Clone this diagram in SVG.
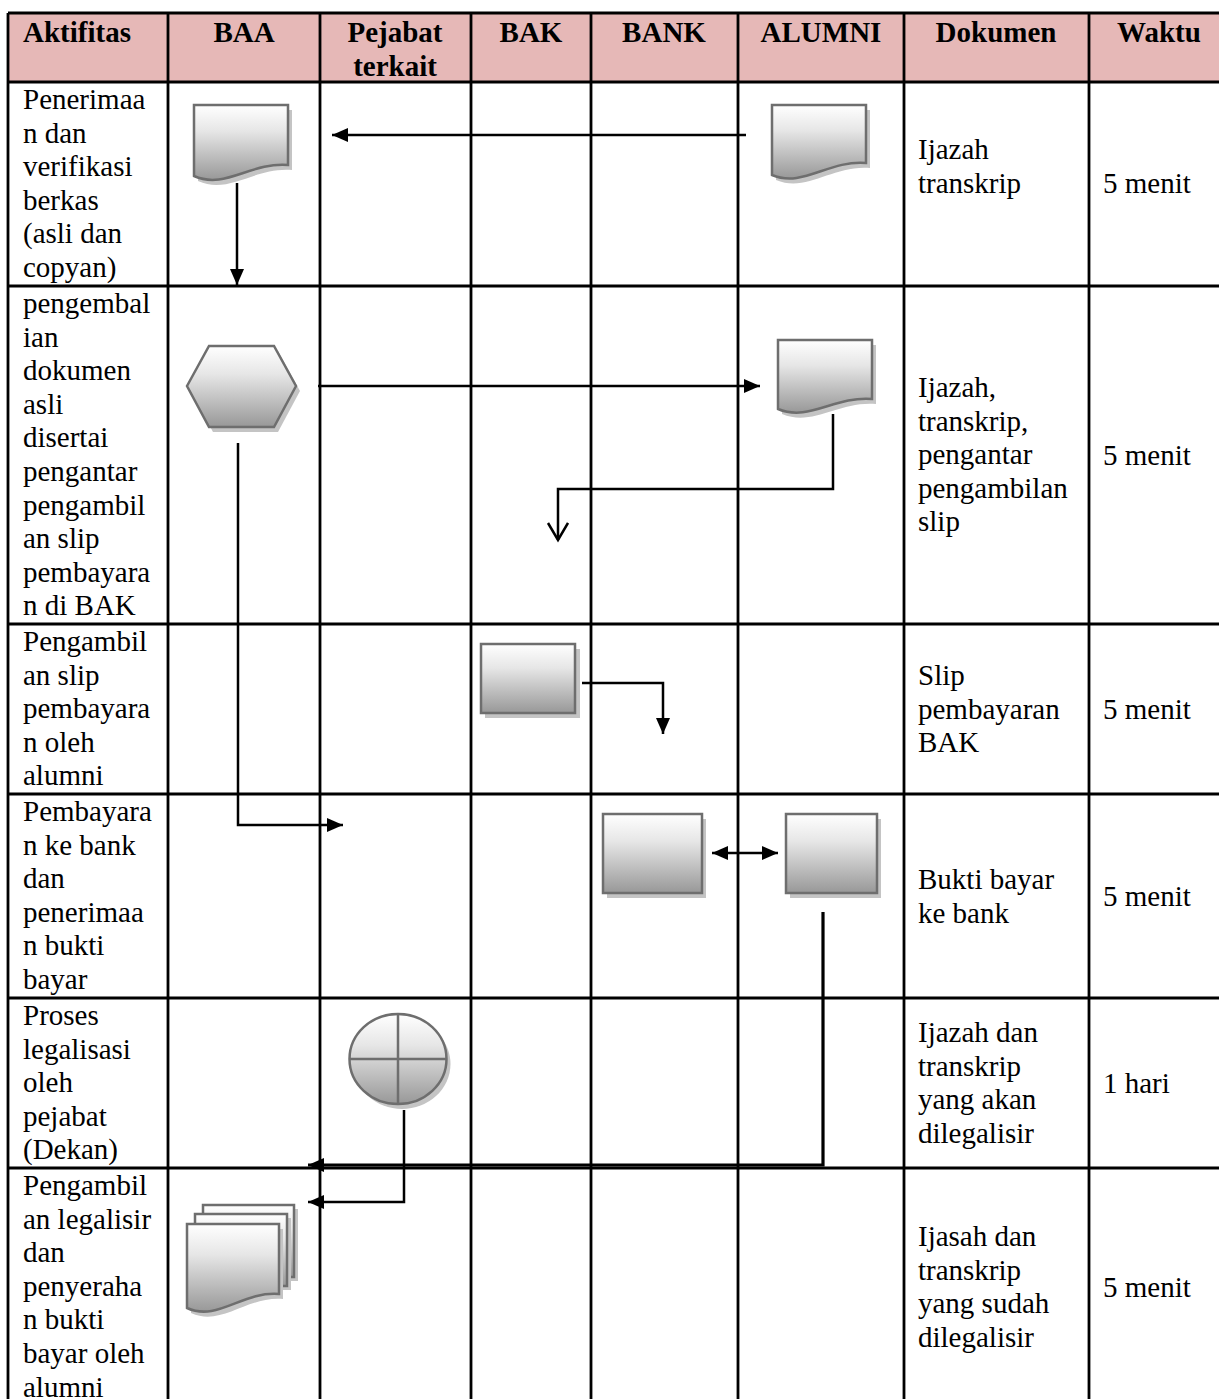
<svg xmlns="http://www.w3.org/2000/svg" width="1219" height="1399" viewBox="0 0 1219 1399">
<style>
text{font-family:"Liberation Serif","Times New Roman",serif;font-size:29px;fill:#000}
.h{font-weight:bold;text-anchor:middle}
.grid{stroke:#000;stroke-width:2.8;fill:none}
.shp{fill:url(#g);stroke:#6e6e6e;stroke-width:2.5}
.sh{fill:#c4c4c4;stroke:none}
.c{fill:none;stroke:#000;stroke-width:2.5}
</style>
<defs>
<linearGradient id="g" x1="0" y1="0" x2="0" y2="1">
<stop offset="0" stop-color="#ffffff"/>
<stop offset="0.35" stop-color="#e6e6e6"/>
<stop offset="1" stop-color="#989898"/>
</linearGradient>
<marker id="a" markerUnits="userSpaceOnUse" markerWidth="18" markerHeight="16" refX="16" refY="7" orient="auto-start-reverse" viewBox="0 0 18 16">
<path d="M0,0 L16,7 L0,14 Z" fill="#000"/>
</marker>
<marker id="v" markerUnits="userSpaceOnUse" markerWidth="24" markerHeight="26" refX="18" refY="11" orient="auto" viewBox="0 0 24 26">
<path d="M1,1 L18,11 L1,21" fill="none" stroke="#000" stroke-width="2.5"/>
</marker>
</defs>
<rect width="1219" height="1399" fill="#fff"/>
<g id="table">
<rect x="8" y="13" width="1215" height="69" fill="#e6b8b7"/>
<path class="grid" d="M8,13H1221M8,82H1221M8,286H1221M8,624H1221M8,794H1221M8,998H1221M8,1168H1221M8,13V1399M168,13V1399M320,13V1399M471,13V1399M591,13V1399M738,13V1399M904,13V1399M1089,13V1399"/>
<text x="23" y="42" style="font-weight:bold">Aktifitas</text>
<text class="h" x="244" y="42">BAA</text>
<text class="h" x="395" y="42">Pejabat</text>
<text class="h" x="395" y="76">terkait</text>
<text class="h" x="531" y="42">BAK</text>
<text class="h" x="664" y="42">BANK</text>
<text class="h" x="821" y="42">ALUMNI</text>
<text class="h" x="996" y="42">Dokumen</text>
<text class="h" x="1159" y="42">Waktu</text>
<text x="23" y="109"><tspan x="23">Penerimaa</tspan><tspan x="23" dy="33.6">n dan</tspan><tspan x="23" dy="33.6">verifikasi</tspan><tspan x="23" dy="33.6">berkas</tspan><tspan x="23" dy="33.6">(asli dan</tspan><tspan x="23" dy="33.6">copyan)</tspan></text>
<text x="23" y="313"><tspan x="23">pengembal</tspan><tspan x="23" dy="33.6">ian</tspan><tspan x="23" dy="33.6">dokumen</tspan><tspan x="23" dy="33.6">asli</tspan><tspan x="23" dy="33.6">disertai</tspan><tspan x="23" dy="33.6">pengantar</tspan><tspan x="23" dy="33.6">pengambil</tspan><tspan x="23" dy="33.6">an slip</tspan><tspan x="23" dy="33.6">pembayara</tspan><tspan x="23" dy="33.6">n di BAK</tspan></text>
<text x="23" y="651"><tspan x="23">Pengambil</tspan><tspan x="23" dy="33.6">an slip</tspan><tspan x="23" dy="33.6">pembayara</tspan><tspan x="23" dy="33.6">n oleh</tspan><tspan x="23" dy="33.6">alumni</tspan></text>
<text x="23" y="821"><tspan x="23">Pembayara</tspan><tspan x="23" dy="33.6">n ke bank</tspan><tspan x="23" dy="33.6">dan</tspan><tspan x="23" dy="33.6">penerimaa</tspan><tspan x="23" dy="33.6">n bukti</tspan><tspan x="23" dy="33.6">bayar</tspan></text>
<text x="23" y="1025"><tspan x="23">Proses</tspan><tspan x="23" dy="33.6">legalisasi</tspan><tspan x="23" dy="33.6">oleh</tspan><tspan x="23" dy="33.6">pejabat</tspan><tspan x="23" dy="33.6">(Dekan)</tspan></text>
<text x="23" y="1195"><tspan x="23">Pengambil</tspan><tspan x="23" dy="33.6">an legalisir</tspan><tspan x="23" dy="33.6">dan</tspan><tspan x="23" dy="33.6">penyeraha</tspan><tspan x="23" dy="33.6">n bukti</tspan><tspan x="23" dy="33.6">bayar oleh</tspan><tspan x="23" dy="33.6">alumni</tspan></text>
<text x="918" y="159"><tspan x="918">Ijazah</tspan><tspan x="918" dy="33.6">transkrip</tspan></text>
<text x="918" y="397"><tspan x="918">Ijazah,</tspan><tspan x="918" dy="33.6">transkrip,</tspan><tspan x="918" dy="33.6">pengantar</tspan><tspan x="918" dy="33.6">pengambilan</tspan><tspan x="918" dy="33.6">slip</tspan></text>
<text x="918" y="685"><tspan x="918">Slip</tspan><tspan x="918" dy="33.6">pembayaran</tspan><tspan x="918" dy="33.6">BAK</tspan></text>
<text x="918" y="889"><tspan x="918">Bukti bayar</tspan><tspan x="918" dy="33.6">ke bank</tspan></text>
<text x="918" y="1042"><tspan x="918">Ijazah dan</tspan><tspan x="918" dy="33.6">transkrip</tspan><tspan x="918" dy="33.6">yang akan</tspan><tspan x="918" dy="33.6">dilegalisir</tspan></text>
<text x="918" y="1246"><tspan x="918">Ijasah dan</tspan><tspan x="918" dy="33.6">transkrip</tspan><tspan x="918" dy="33.6">yang sudah</tspan><tspan x="918" dy="33.6">dilegalisir</tspan></text>
<text x="1103" y="193">5 menit</text>
<text x="1103" y="465">5 menit</text>
<text x="1103" y="719">5 menit</text>
<text x="1103" y="906">5 menit</text>
<text x="1103" y="1093">1 hari</text>
<text x="1103" y="1297">5 menit</text>
</g>
<g id="baa-doc1">
<path class="sh" transform="translate(4,5)" d="M194,105H288V165C250,162 225,190 194,176Z"/>
<path class="shp" d="M194,105H288V165C250,162 225,190 194,176Z"/>
</g>
<g id="alumni-doc1">
<path class="sh" transform="translate(4,5)" d="M772,105H866V163C828,160 803,188 772,175Z"/>
<path class="shp" d="M772,105H866V163C828,160 803,188 772,175Z"/>
</g>
<g id="baa-hex">
<path class="sh" transform="translate(4,5)" d="M187,386L209,346H274L296,386L274,427H209Z"/>
<path class="shp" d="M187,386L209,346H274L296,386L274,427H209Z"/>
</g>
<g id="alumni-doc2">
<path class="sh" transform="translate(4,5)" d="M778,340H872V399C834,396 809,422 778,409Z"/>
<path class="shp" d="M778,340H872V399C834,396 809,422 778,409Z"/>
</g>
<g id="bak-proc">
<rect class="sh" x="485" y="649" width="95" height="69"/>
<rect class="shp" x="481" y="644" width="94" height="69"/>
</g>
<g id="bank-proc">
<rect class="sh" x="607" y="819" width="99" height="79"/>
<rect class="shp" x="603" y="814" width="99" height="79"/>
</g>
<g id="alumni-proc">
<rect class="sh" x="790" y="819" width="91" height="79"/>
<rect class="shp" x="786" y="814" width="91" height="79"/>
</g>
<g id="pejabat-sort">
<ellipse class="sh" cx="402" cy="1064" rx="48.5" ry="45"/>
<ellipse class="shp" cx="398" cy="1059" rx="48.5" ry="45"/>
<path d="M349.5,1059H446.5M398,1014V1104" stroke="#6e6e6e" stroke-width="2.5"/>
</g>
<g id="baa-multidoc">
<rect class="sh" x="207" y="1209" width="91" height="72"/>
<rect class="shp" x="203" y="1205" width="91" height="72"/>
<rect class="sh" x="199" y="1218" width="92" height="72"/>
<rect class="shp" x="195" y="1214" width="92" height="72"/>
<path class="sh" transform="translate(4,5)" d="M187,1224H279V1294C242,1291 218,1322 187,1308Z"/>
<path class="shp" d="M187,1224H279V1294C242,1291 218,1322 187,1308Z"/>
</g>
<g id="connectors">
<path class="c" d="M746,135H332" marker-end="url(#a)"/>
<path class="c" d="M237,183V285" marker-end="url(#a)"/>
<path class="c" d="M318,386H760" marker-end="url(#a)"/>
<path class="c" d="M833,414V489H558V540" marker-end="url(#v)"/>
<path class="c" d="M582,683H663V734" marker-end="url(#a)"/>
<path class="c" d="M238,443V825H343" marker-end="url(#a)"/>
<path class="c" d="M712,853H778" marker-start="url(#a)" marker-end="url(#a)"/>
<path class="c" style="stroke-width:3.2" d="M823,912V1165H308" marker-end="url(#a)"/>
<path class="c" d="M404,1110V1202H308" marker-end="url(#a)"/>
</g>
</svg>
